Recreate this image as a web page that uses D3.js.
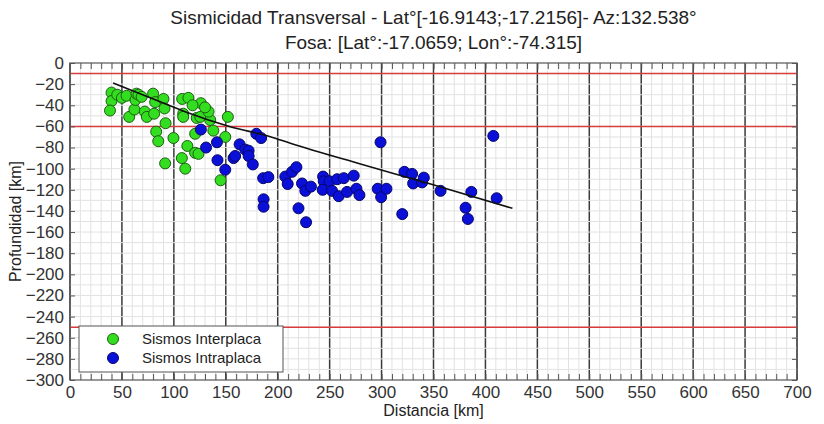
<!DOCTYPE html>
<html><head><meta charset="utf-8">
<script src="https://cdn.jsdelivr.net/npm/d3@7"></script>
<style>body{margin:0;background:#fff}svg{display:block}text{font-family:"Liberation Sans",Arial,sans-serif}</style>
</head><body><svg id="c" width="824" height="424"></svg>
<script>
const titleLines = ["Sismicidad Transversal - Lat°[-16.9143;-17.2156]- Az:132.538°", "Fosa: [Lat°:-17.0659; Lon°:-74.315]"];
const xLabel = "Distancia [km]";
const yLabel = "Profundidad [km]";
const xTicks = [0,50,100,150,200,250,300,350,400,450,500,550,600,650,700];
const yTicks = [0,-20,-40,-60,-80,-100,-120,-140,-160,-180,-200,-220,-240,-260,-280,-300];
const refDepths = [-10,-60,-250];
const seriesNames = ["Sismos Interplaca","Sismos Intraplaca"];
// [distance km, depth km]
const interplaca = [
 [40,-28],[40,-36],[38.5,-45],[45.5,-30],[50,-33],[54.5,-31],[57,-51],[62,-44],[63,-35],[64,-29],
 [66,-30],[69,-32],[72,-46],[74,-51],[80,-29],[81,-48],[83,-65],[85,-74],[82,-37],[90,-34],
 [91,-43],[92,-57],[99.6,-71],[91.6,-95],[107.7,-90],[111,-100],[113,-78.5],[120.5,-85],[123.7,-86],
 [109,-48],[109,-51],[122,-52],[120.5,-67],[125.4,-51],[135,-54],[133.4,-46],[138,-64],[149.5,-70],
 [152,-51],[145,-111],[108,-34],[114,-33],[126,-38],[130,-42],[118,-40]
];
const intraplaca = [
 [126,-63],[131,-80],[141.5,-75],[142,-92],[149.5,-101],[157.5,-90],[159,-88],[163.3,-77],[168.8,-82],
 [172,-83],[172,-88],[176,-96],[179.4,-67],[184,-71],[186,-109],[191,-108],[186.4,-129],[186.4,-136],
 [207.3,-107.5],[209.6,-114.5],[213.8,-103],[218,-98.6],[223.4,-114],[226.6,-121],[232,-117],
 [220,-137.5],[227.3,-150.7],[243.7,-107.5],[244.3,-112],[243.3,-120],[250,-112],[252.3,-121],
 [257.2,-110],[258.7,-126],[263.6,-109],[266.8,-122],[273.2,-106.6],[275.8,-119],[278.7,-125],
 [299,-75],[296.3,-119],[299.6,-127],[304.7,-119],[319.9,-143],[322,-103],[329.4,-105],[330.4,-114],
 [339,-113],[340.7,-108.5],[356.8,-121],[386.4,-122],[380.9,-137],[383.1,-147.6],[407.6,-69],[410.8,-128]
];
const trend = [[41.5,-18.9],[86.8,-36.6],[110.9,-46.1],[154.3,-60.3],[192.9,-69.7],[212.2,-76],[279.7,-95.6],[347.2,-114.5],[426,-137.5]];

const svg = d3.select("#c");
const L=70, R=797, T=63, B=380;
const x = d3.scaleLinear().domain([0,700]).range([L,R]);
const y = d3.scaleLinear().domain([0,-300]).range([T,B]);

const g = svg.append("g");
g.selectAll(".vg").data(d3.range(0,701,10)).join("line")
 .attr("x1",d=>x(d)).attr("x2",d=>x(d)).attr("y1",T).attr("y2",B)
 .attr("stroke",d=>d%50===0?"#3a3a3a":"#e2e2e2").attr("stroke-width",d=>d%50===0?1.5:1);
g.selectAll(".hg").data(d3.range(-10,-300,-10)).join("line")
 .attr("x1",L).attr("x2",R).attr("y1",d=>y(d)).attr("y2",d=>y(d))
 .attr("stroke","#e2e2e2").attr("stroke-width",1);
g.selectAll(".rl").data(refDepths).join("line")
 .attr("x1",L).attr("x2",R).attr("y1",d=>y(d)).attr("y2",d=>y(d))
 .attr("stroke","#d83c3c").attr("stroke-width",1.5);

const xb = d3.axisBottom(x).tickValues(d3.range(0,701,10)).tickSize(-6).tickFormat(d=>xTicks.includes(d)?d:"").tickPadding(6);
const xt = d3.axisTop(x).tickValues(d3.range(0,701,10)).tickSize(-6).tickFormat("");
const yl = d3.axisLeft(y).tickValues(yTicks).tickSize(-5).tickPadding(6);
const yr = d3.axisRight(y).tickValues(yTicks).tickSize(-5).tickFormat("");
function style(sel){sel.select(".domain").remove();sel.selectAll("line").attr("stroke","#555");sel.selectAll("text").attr("fill","#333").style("font-size","17px");}
svg.append("g").attr("transform",`translate(0,${B})`).call(xb).call(style);
svg.append("g").attr("transform",`translate(0,${T})`).call(xt).call(style);
svg.append("g").attr("transform",`translate(${L},0)`).call(yl).call(style);
svg.append("g").attr("transform",`translate(${R},0)`).call(yr).call(style);
svg.append("rect").attr("x",L).attr("y",T).attr("width",R-L).attr("height",B-T).attr("fill","none").attr("stroke","#555").attr("stroke-width",1.2);

const pts = svg.append("g");
pts.selectAll(".gp").data(interplaca).join("circle")
 .attr("cx",d=>x(d[0])).attr("cy",d=>y(d[1])).attr("r",5.5)
 .attr("fill","#33dd1f").attr("stroke","#1d5e12").attr("stroke-width",1);
pts.selectAll(".bp").data(intraplaca).join("circle")
 .attr("cx",d=>x(d[0])).attr("cy",d=>y(d[1])).attr("r",5.5)
 .attr("fill","#0a10d8").attr("stroke","#06066a").attr("stroke-width",1);
svg.append("path").datum(trend).attr("fill","none").attr("stroke","#111").attr("stroke-width",1.6)
 .attr("d",d3.line().x(d=>x(d[0])).y(d=>y(d[1])).curve(d3.curveMonotoneX));

const lg = svg.append("g");
lg.append("rect").attr("x",79).attr("y",326).attr("width",204).attr("height",46).attr("fill","#fff").attr("stroke","#555").attr("stroke-width",1);
const cols=[["#33dd1f","#1d5e12"],["#0a10d8","#06066a"]];
seriesNames.forEach((n,i)=>{
 lg.append("circle").attr("cx",113).attr("cy",339+i*19).attr("r",5.5).attr("fill",cols[i][0]).attr("stroke",cols[i][1]);
 lg.append("text").attr("x",142).attr("y",344+i*19).text(n).attr("fill","#222").style("font-size","15px");
});

svg.selectAll(".tt").data(titleLines).join("text").attr("x",(L+R)/2).attr("y",(d,i)=>24+i*25)
 .attr("text-anchor","middle").attr("fill","#222").style("font-size","19px").text(d=>d);
svg.append("text").attr("x",(L+R)/2).attr("y",416).attr("text-anchor","middle").attr("fill","#222").style("font-size","16px").text(xLabel);
svg.append("text").attr("transform",`translate(21,${(T+B)/2}) rotate(-90)`).attr("text-anchor","middle").attr("fill","#222").style("font-size","16px").text(yLabel);
</script></body></html>
